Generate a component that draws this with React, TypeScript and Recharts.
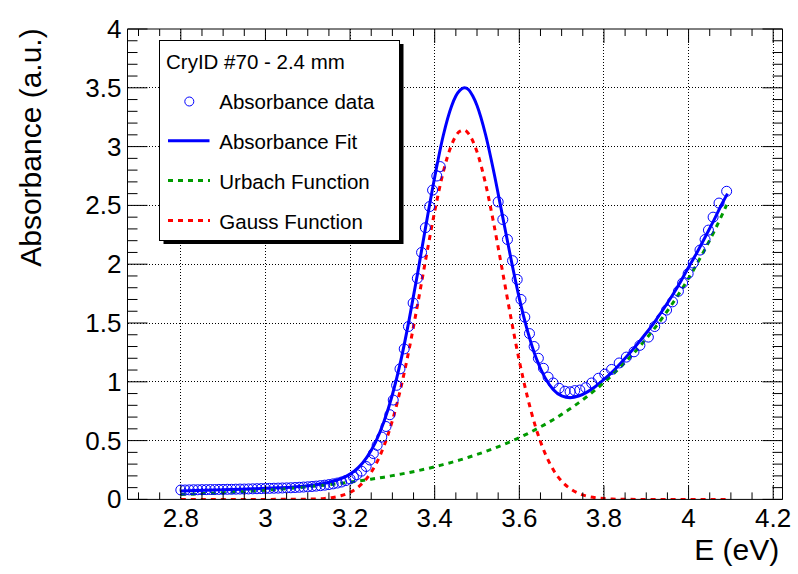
import React from "react";
import { ComposedChart, Line, XAxis, YAxis, CartesianGrid } from "recharts";

// axis ticks
const xMajor = [2.8, 3, 3.2, 3.4, 3.6, 3.8, 4, 4.2];
const xMinor = [2.7, 2.75, 2.85, 2.9, 2.95, 3.05, 3.1, 3.15, 3.25, 3.3, 3.35, 3.45, 3.5, 3.55, 3.65, 3.7, 3.75, 3.85, 3.9, 3.95, 4.05, 4.1, 4.15];
const yMajor = [0, 0.5, 1, 1.5, 2, 2.5, 3, 3.5, 4];
const yMinor = [0.1, 0.2, 0.3, 0.4, 0.6, 0.7, 0.8, 0.9, 1.1, 1.2, 1.3, 1.4, 1.6, 1.7, 1.8, 1.9, 2.1, 2.2, 2.3, 2.4, 2.6, 2.7, 2.8, 2.9, 3.1, 3.2, 3.3, 3.4, 3.6, 3.7, 3.8, 3.9];
const xGrid = [2.8, 3, 3.2, 3.4, 3.6, 3.8, 4, 4.2];
const yGrid = [0.5, 1, 1.5, 2, 2.5, 3, 3.5];

// measured absorbance, [E (eV), absorbance]
const absorbanceData: [number, number][] = [
  [2.8, 0.08], [2.81, 0.08], [2.82, 0.081], [2.83, 0.082], [2.84, 0.082], [2.85, 0.083],
  [2.86, 0.083], [2.87, 0.084], [2.88, 0.084], [2.89, 0.085], [2.9, 0.085], [2.91, 0.086],
  [2.92, 0.086], [2.93, 0.087], [2.94, 0.088], [2.95, 0.088], [2.96, 0.089], [2.97, 0.09],
  [2.98, 0.091], [2.99, 0.092], [3.0, 0.093], [3.01, 0.094], [3.02, 0.095], [3.03, 0.096],
  [3.04, 0.097], [3.05, 0.098], [3.06, 0.099], [3.07, 0.101], [3.08, 0.103], [3.09, 0.105],
  [3.1, 0.107], [3.11, 0.11], [3.12, 0.113], [3.13, 0.117], [3.14, 0.121], [3.15, 0.126],
  [3.16, 0.132], [3.17, 0.139], [3.18, 0.148], [3.19, 0.16], [3.2, 0.174], [3.208, 0.19],
  [3.216, 0.21], [3.227, 0.24], [3.238, 0.28], [3.247, 0.335], [3.255, 0.39], [3.264, 0.46],
  [3.275, 0.53], [3.285, 0.62], [3.294, 0.72], [3.302, 0.845], [3.31, 0.97], [3.318, 1.11],
  [3.328, 1.28], [3.338, 1.47], [3.349, 1.67], [3.359, 1.88], [3.369, 2.1], [3.378, 2.31],
  [3.388, 2.49], [3.395, 2.63], [3.405, 2.75], [3.413, 2.83],
  [3.55, 2.53], [3.561, 2.38], [3.572, 2.21], [3.584, 2.03], [3.595, 1.87], [3.604, 1.7],
  [3.613, 1.55], [3.624, 1.41], [3.635, 1.3], [3.645, 1.2], [3.657, 1.115], [3.668, 1.04],
  [3.68, 0.99], [3.694, 0.945], [3.708, 0.92], [3.72, 0.915], [3.731, 0.925], [3.743, 0.93],
  [3.757, 0.95], [3.771, 0.99], [3.787, 1.03], [3.802, 1.065], [3.818, 1.105], [3.836, 1.16],
  [3.853, 1.21], [3.871, 1.255], [3.885, 1.31], [3.905, 1.38], [3.92, 1.47], [3.936, 1.54],
  [3.948, 1.61], [3.962, 1.68], [3.976, 1.77], [3.986, 1.84], [3.999, 1.92], [4.011, 2.01],
  [4.027, 2.12], [4.039, 2.21], [4.047, 2.29], [4.058, 2.4], [4.072, 2.52], [4.09, 2.62],
];

// total fit
const fitCurve: [number, number][] = [
  [2.8, 0.072], [2.82, 0.074], [2.84, 0.076], [2.86, 0.078], [2.88, 0.08], [2.9, 0.082],
  [2.92, 0.084], [2.94, 0.086], [2.96, 0.088], [2.98, 0.091], [3.0, 0.094], [3.02, 0.097],
  [3.04, 0.1], [3.06, 0.104], [3.08, 0.109], [3.1, 0.116], [3.12, 0.125], [3.14, 0.137],
  [3.16, 0.154], [3.18, 0.179], [3.2, 0.215], [3.22, 0.272], [3.24, 0.36], [3.26, 0.485],
  [3.28, 0.66], [3.3, 0.89], [3.32, 1.18], [3.34, 1.535], [3.36, 1.93], [3.38, 2.345],
  [3.4, 2.74], [3.42, 3.09], [3.44, 3.345], [3.45, 3.43], [3.46, 3.48], [3.47, 3.5],
  [3.48, 3.485], [3.49, 3.43], [3.5, 3.35], [3.52, 3.105], [3.54, 2.78], [3.56, 2.415],
  [3.58, 2.05], [3.6, 1.71], [3.62, 1.425], [3.64, 1.2], [3.66, 1.04], [3.68, 0.935],
  [3.7, 0.88], [3.72, 0.865], [3.74, 0.878], [3.76, 0.912], [3.78, 0.96], [3.8, 1.02],
  [3.82, 1.085], [3.84, 1.16], [3.86, 1.24], [3.88, 1.325], [3.9, 1.415], [3.92, 1.51],
  [3.94, 1.615], [3.96, 1.725], [3.98, 1.845], [4.0, 1.975], [4.02, 2.1], [4.04, 2.235],
  [4.06, 2.375], [4.08, 2.52], [4.092, 2.6],
];

// Urbach tail component
const urbachCurve: [number, number][] = [
  [2.8, 0.041], [2.82, 0.044], [2.84, 0.047], [2.86, 0.05], [2.88, 0.053], [2.9, 0.057],
  [2.92, 0.06], [2.94, 0.064], [2.96, 0.068], [2.98, 0.073], [3.0, 0.078], [3.02, 0.083],
  [3.04, 0.088], [3.06, 0.094], [3.08, 0.1], [3.1, 0.107], [3.12, 0.114], [3.14, 0.121],
  [3.16, 0.129], [3.18, 0.138], [3.2, 0.147], [3.22, 0.156], [3.24, 0.167], [3.26, 0.178],
  [3.28, 0.189], [3.3, 0.202], [3.32, 0.215], [3.34, 0.229], [3.36, 0.244], [3.38, 0.26],
  [3.4, 0.277], [3.42, 0.296], [3.44, 0.315], [3.46, 0.336], [3.48, 0.358], [3.5, 0.382],
  [3.52, 0.407], [3.54, 0.434], [3.56, 0.462], [3.58, 0.493], [3.6, 0.525], [3.62, 0.56],
  [3.64, 0.597], [3.66, 0.636], [3.68, 0.678], [3.7, 0.723], [3.72, 0.77], [3.74, 0.821],
  [3.76, 0.875], [3.78, 0.932], [3.8, 0.994], [3.82, 1.059], [3.84, 1.129], [3.86, 1.203],
  [3.88, 1.282], [3.9, 1.367], [3.92, 1.457], [3.94, 1.553], [3.96, 1.655], [3.98, 1.764],
  [4.0, 1.88], [4.02, 2.004], [4.04, 2.136], [4.06, 2.276], [4.08, 2.426], [4.09, 2.505],
];

// Gaussian absorption band
const gaussCurve: [number, number][] = [
  [2.8, 0], [3.0, 0], [3.06, 0.001], [3.1, 0.002], [3.12, 0.004], [3.14, 0.008],
  [3.16, 0.017], [3.18, 0.033], [3.2, 0.06], [3.22, 0.107], [3.24, 0.181], [3.26, 0.292],
  [3.28, 0.453], [3.3, 0.67], [3.32, 0.949], [3.34, 1.284], [3.36, 1.665], [3.38, 2.065],
  [3.4, 2.448], [3.42, 2.78], [3.44, 3.016], [3.46, 3.131], [3.47, 3.14], [3.48, 3.11],
  [3.5, 2.956], [3.52, 2.688], [3.54, 2.337], [3.56, 1.945], [3.58, 1.548], [3.6, 1.178],
  [3.62, 0.859], [3.64, 0.598], [3.66, 0.399], [3.68, 0.254], [3.7, 0.155], [3.72, 0.091],
  [3.74, 0.051], [3.76, 0.027], [3.78, 0.014], [3.8, 0.007], [3.82, 0.003], [3.84, 0.001],
  [3.9, 0], [4.0, 0], [4.09, 0],
];

const FONT = "'Liberation Sans', Arial, Helvetica, sans-serif";
const BLUE = "#0000ff";
const GREEN = "#009a00";
const RED = "#ff0000";

const toRows = (pts: [number, number][]) => pts.map(([e, v]) => ({ e, v }));

const isMajor = (list: number[], v: number) => list.some((m) => Math.abs(m - v) < 1e-9);

function BottomTick(props: any) {
  const { x, y, payload } = props;
  const major = isMajor(xMajor, payload.value);
  return (
    <g>
      <line x1={x} y1={y} x2={x} y2={y - (major ? 14 : 7)} stroke="#000" strokeWidth={1} />
      {major && (
        <text x={x} y={y + 28} textAnchor="middle" fontSize={26} fontFamily={FONT} fill="#000">
          {String(payload.value)}
        </text>
      )}
    </g>
  );
}

function TopTick(props: any) {
  const { x, y, payload } = props;
  const major = isMajor(xMajor, payload.value);
  return <line x1={x} y1={y} x2={x} y2={y + (major ? 14 : 7)} stroke="#000" strokeWidth={1} />;
}

function LeftTick(props: any) {
  const { x, y, payload } = props;
  const major = isMajor(yMajor, payload.value);
  return (
    <g>
      <line x1={x} y1={y} x2={x + (major ? 20 : 10)} y2={y} stroke="#000" strokeWidth={1} />
      {major && (
        <text x={x - 6} y={y + 9} textAnchor="end" fontSize={26} fontFamily={FONT} fill="#000">
          {String(payload.value)}
        </text>
      )}
    </g>
  );
}

function RightTick(props: any) {
  const { x, y, payload } = props;
  const major = isMajor(yMajor, payload.value);
  return <line x1={x} y1={y} x2={x - (major ? 20 : 10)} y2={y} stroke="#000" strokeWidth={1} />;
}

function OpenCircle(props: any) {
  const { cx, cy, index } = props;
  if (cx == null || cy == null) return <g key={index} />;
  return <circle key={index} cx={cx} cy={cy} r={5} fill="none" stroke={BLUE} strokeWidth={1} />;
}

function LegendBox() {
  return (
    <svg
      width={798}
      height={574}
      style={{ position: "absolute", left: 0, top: 0, pointerEvents: "none" }}
    >
      <rect x={163.5} y={44} width={240} height={200} fill="#000" />
      <rect x={159.5} y={40.5} width={240} height={200} fill="#fff" stroke="#000" strokeWidth={1} />
      <text x={166} y={69.3} fontSize={20.5} fontFamily={FONT} fill="#000">CryID #70 - 2.4 mm</text>
      <circle cx={189.3} cy={101.5} r={4.5} fill="none" stroke={BLUE} strokeWidth={1} />
      <text x={219.3} y={109.3} fontSize={20.5} fontFamily={FONT} fill="#000">Absorbance data</text>
      <line x1={168} y1={140.7} x2={209.5} y2={140.7} stroke={BLUE} strokeWidth={3} />
      <text x={219.3} y={149.3} fontSize={20.5} fontFamily={FONT} fill="#000">Absorbance Fit</text>
      <line x1={168} y1={180.5} x2={210} y2={180.5} stroke={GREEN} strokeWidth={3} strokeDasharray="5 5" />
      <text x={219.3} y={188.8} fontSize={20.5} fontFamily={FONT} fill="#000">Urbach Function</text>
      <line x1={168} y1={220.5} x2={210} y2={220.5} stroke={RED} strokeWidth={3} strokeDasharray="5 5" />
      <text x={219.3} y={228.8} fontSize={20.5} fontFamily={FONT} fill="#000">Gauss Function</text>

      <text
        x={40.7}
        y={28.3}
        transform="rotate(-90 40.7 28.3)"
        textAnchor="end"
        fontSize={30}
        fontFamily={FONT}
        fill="#000"
      >
        Absorbance (a.u.)
      </text>
      <text x={779.3} y={560} textAnchor="end" fontSize={30} fontFamily={FONT} fill="#000">
        E (eV)
      </text>
    </svg>
  );
}

export default function App() {
  const xTicks = [...xMinor, ...xMajor].sort((a, b) => a - b);
  const yTicks = [...yMinor, ...yMajor].sort((a, b) => a - b);
  const xDomain: [number, number] = [2.674, 4.222];
  const axisStyle = { stroke: "#000", strokeWidth: 1 };

  return (
    <div
      style={{
        position: "absolute",
        left: 0,
        top: 0,
        width: 798,
        height: 574,
        background: "#fff",
        fontFamily: FONT,
      }}
    >
      <ComposedChart
        width={798}
        height={574}
        margin={{ top: 28, right: 14.5, left: 126.5, bottom: 73.6 }}
      >
        <CartesianGrid
          horizontalValues={yGrid}
          verticalValues={xGrid}
          stroke="#000"
          strokeDasharray="1 2"
          shapeRendering="crispEdges"
          fill="none"
        />
        <XAxis
          xAxisId={0}
          dataKey="e"
          type="number"
          domain={xDomain}
          allowDataOverflow
          ticks={xTicks}
          interval={0}
          height={1}
          tickSize={0}
          tickMargin={0}
          tickLine={false}
          axisLine={axisStyle}
          tick={<BottomTick />}
        />
        <XAxis
          xAxisId="top"
          orientation="top"
          dataKey="e"
          type="number"
          domain={xDomain}
          allowDataOverflow
          ticks={xTicks}
          interval={0}
          height={1}
          tickSize={0}
          tickMargin={0}
          tickLine={false}
          axisLine={axisStyle}
          tick={<TopTick />}
        />
        <YAxis
          yAxisId={0}
          type="number"
          domain={[0, 4]}
          allowDataOverflow
          ticks={yTicks}
          interval={0}
          width={1}
          tickSize={0}
          tickMargin={0}
          tickLine={false}
          axisLine={axisStyle}
          tick={<LeftTick />}
        />
        <YAxis
          yAxisId="right"
          orientation="right"
          type="number"
          domain={[0, 4]}
          allowDataOverflow
          ticks={yTicks}
          interval={0}
          width={1}
          tickSize={0}
          tickMargin={0}
          tickLine={false}
          axisLine={axisStyle}
          tick={<RightTick />}
        />

        <Line
          data={toRows(absorbanceData)}
          dataKey="v"
          stroke="none"
          dot={(p: any) => <OpenCircle {...p} />}
          activeDot={false}
          isAnimationActive={false}
        />
        <Line
          data={toRows(fitCurve)}
          dataKey="v"
          type="monotone"
          stroke={BLUE}
          strokeWidth={3}
          dot={false}
          activeDot={false}
          isAnimationActive={false}
        />
        <Line
          data={toRows(urbachCurve)}
          dataKey="v"
          type="monotone"
          stroke={GREEN}
          strokeWidth={3}
          strokeDasharray="5 5"
          dot={false}
          activeDot={false}
          isAnimationActive={false}
        />
        <Line
          data={toRows(gaussCurve)}
          dataKey="v"
          type="monotone"
          stroke={RED}
          strokeWidth={3}
          strokeDasharray="5 5"
          dot={false}
          activeDot={false}
          isAnimationActive={false}
        />
      </ComposedChart>
      <LegendBox />
    </div>
  );
}
